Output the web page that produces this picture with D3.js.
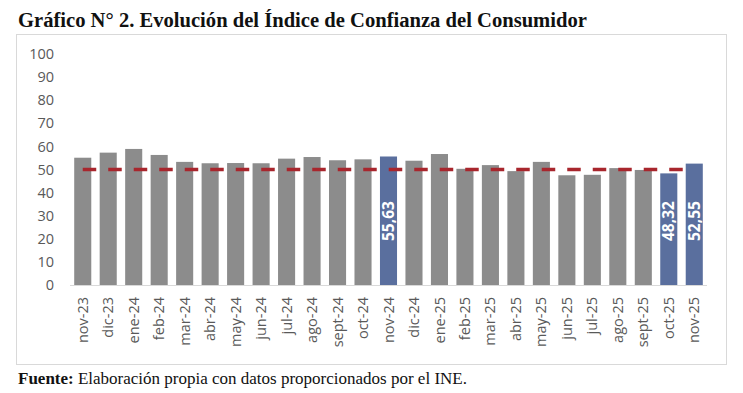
<!DOCTYPE html>
<html>
<head>
<meta charset="utf-8">
<script src="https://cdn.jsdelivr.net/npm/d3@7"></script>
<style>
  body { margin: 0; background: #fff; }
  svg { display: block; }
</style>
</head>
<body>
<div id="chart"></div>
<script>
// data
var months = ["nov-23","dic-23","ene-24","feb-24","mar-24","abr-24","may-24","jun-24","jul-24","ago-24","sept-24","oct-24",
              "nov-24","dic-24","ene-25","feb-25","mar-25","abr-25","may-25","jun-25","jul-25","ago-25","sept-25","oct-25","nov-25"];
var icc = [55.1,57.3,58.9,56.3,53.3,52.7,52.8,52.7,54.7,55.4,54.0,54.4,
           55.63,53.8,56.7,50.3,51.9,49.3,53.3,47.5,47.7,50.6,49.8,48.32,52.55];
var highlighted = ["nov-24","oct-25","nov-25"];
var threshold = 50;
var yTicks = [0,10,20,30,40,50,60,70,80,90,100];

var W = 743, H = 393;
var margin = {top: 54, right: 36, bottom: 108, left: 70},
    width = W - margin.left - margin.right,
    height = H - margin.top - margin.bottom;

var svg = d3.select("#chart").append("svg")
    .attr("width", W)
    .attr("height", H);

// title
svg.append("text")
  .attr("x", 18).attr("y", 27)
  .attr("font-family", "Liberation Serif, serif")
  .attr("font-weight", "bold")
  .attr("font-size", "20.6px")
  .attr("fill", "#111")
  .text("Gráfico N° 2. Evolución del Índice de Confianza del Consumidor");

// chart frame
svg.append("rect")
  .attr("x", 16.5).attr("y", 34.5)
  .attr("width", 710).attr("height", 330)
  .attr("fill", "none")
  .attr("stroke", "#d9d9d9")
  .attr("stroke-width", 1);

var g = svg.append("g").attr("transform", "translate(" + margin.left + "," + margin.top + ")");

var x = d3.scaleBand()
    .domain(months)
    .range([0, width])
    .paddingInner(0.33)
    .paddingOuter(0.165);

var y = d3.scaleLinear()
    .domain([0, 100])
    .range([height, 0]);

// y axis labels
var yAxis = d3.axisLeft(y).tickValues(yTicks).tickSize(0).tickPadding(16);
g.append("g")
  .call(yAxis)
  .call(function(s){ s.select(".domain").remove(); })
  .selectAll("text")
    .attr("font-family", "Open Sans, sans-serif")
    .attr("font-size", "14.5px")
    .attr("fill", "#595959");

// baseline
g.append("line")
  .attr("x1", 0).attr("x2", width)
  .attr("y1", y(0) + 0.5).attr("y2", y(0) + 0.5)
  .attr("stroke", "#d9d9d9");

// bars
g.selectAll(".bar")
  .data(months)
  .enter().append("rect")
    .attr("class", "bar")
    .attr("x", function(d){ return x(d); })
    .attr("width", x.bandwidth())
    .attr("y", function(d,i){ return y(icc[i]); })
    .attr("height", function(d,i){ return y(0) - y(icc[i]); })
    .attr("fill", function(d){ return highlighted.includes(d) ? "#5a6f9e" : "#8c8c8c"; });

// threshold dashed line
g.append("line")
  .attr("x1", x(months[0]) + x.bandwidth()/2)
  .attr("x2", x(months[months.length-1]) + x.bandwidth()/2)
  .attr("y1", y(threshold)).attr("y2", y(threshold))
  .attr("stroke", "#a8262d")
  .attr("stroke-width", 3.5)
  .attr("stroke-dasharray", "13.5,12");

// value labels in highlighted bars
g.selectAll(".val")
  .data(months.filter(function(d){ return highlighted.includes(d); }))
  .enter().append("text")
    .attr("class", "val")
    .attr("transform", function(d){
      return "translate(" + (x(d) + x.bandwidth()/2 + 5.5) + "," + (y(0) - 44) + ") rotate(-90)";
    })
    .attr("font-family", "Open Sans, sans-serif")
    .attr("font-weight", "bold")
    .attr("font-size", "15.5px")
    .attr("fill", "#fff")
    .text(function(d){ return String(icc[months.indexOf(d)]).replace(".", ","); });

// x axis labels
var xAxis = d3.axisBottom(x).tickSize(0).tickPadding(0);
g.append("g")
  .attr("transform", "translate(0," + height + ")")
  .call(xAxis)
  .call(function(s){ s.select(".domain").remove(); })
  .selectAll("text")
    .attr("font-family", "Open Sans, sans-serif")
    .attr("font-size", "14.5px")
    .attr("fill", "#595959")
    .attr("text-anchor", "end")
    .attr("dy", "0.35em")
    .attr("transform", "translate(0,12) rotate(-90)");

// source note
var src = svg.append("text")
  .attr("x", 18).attr("y", 384)
  .attr("font-family", "Liberation Serif, serif")
  .attr("font-size", "17px")
  .attr("fill", "#111");
src.append("tspan").attr("font-weight", "bold").text("Fuente:");
src.append("tspan").text(" Elaboración propia con datos proporcionados por el INE.");
</script>
</body>
</html>
